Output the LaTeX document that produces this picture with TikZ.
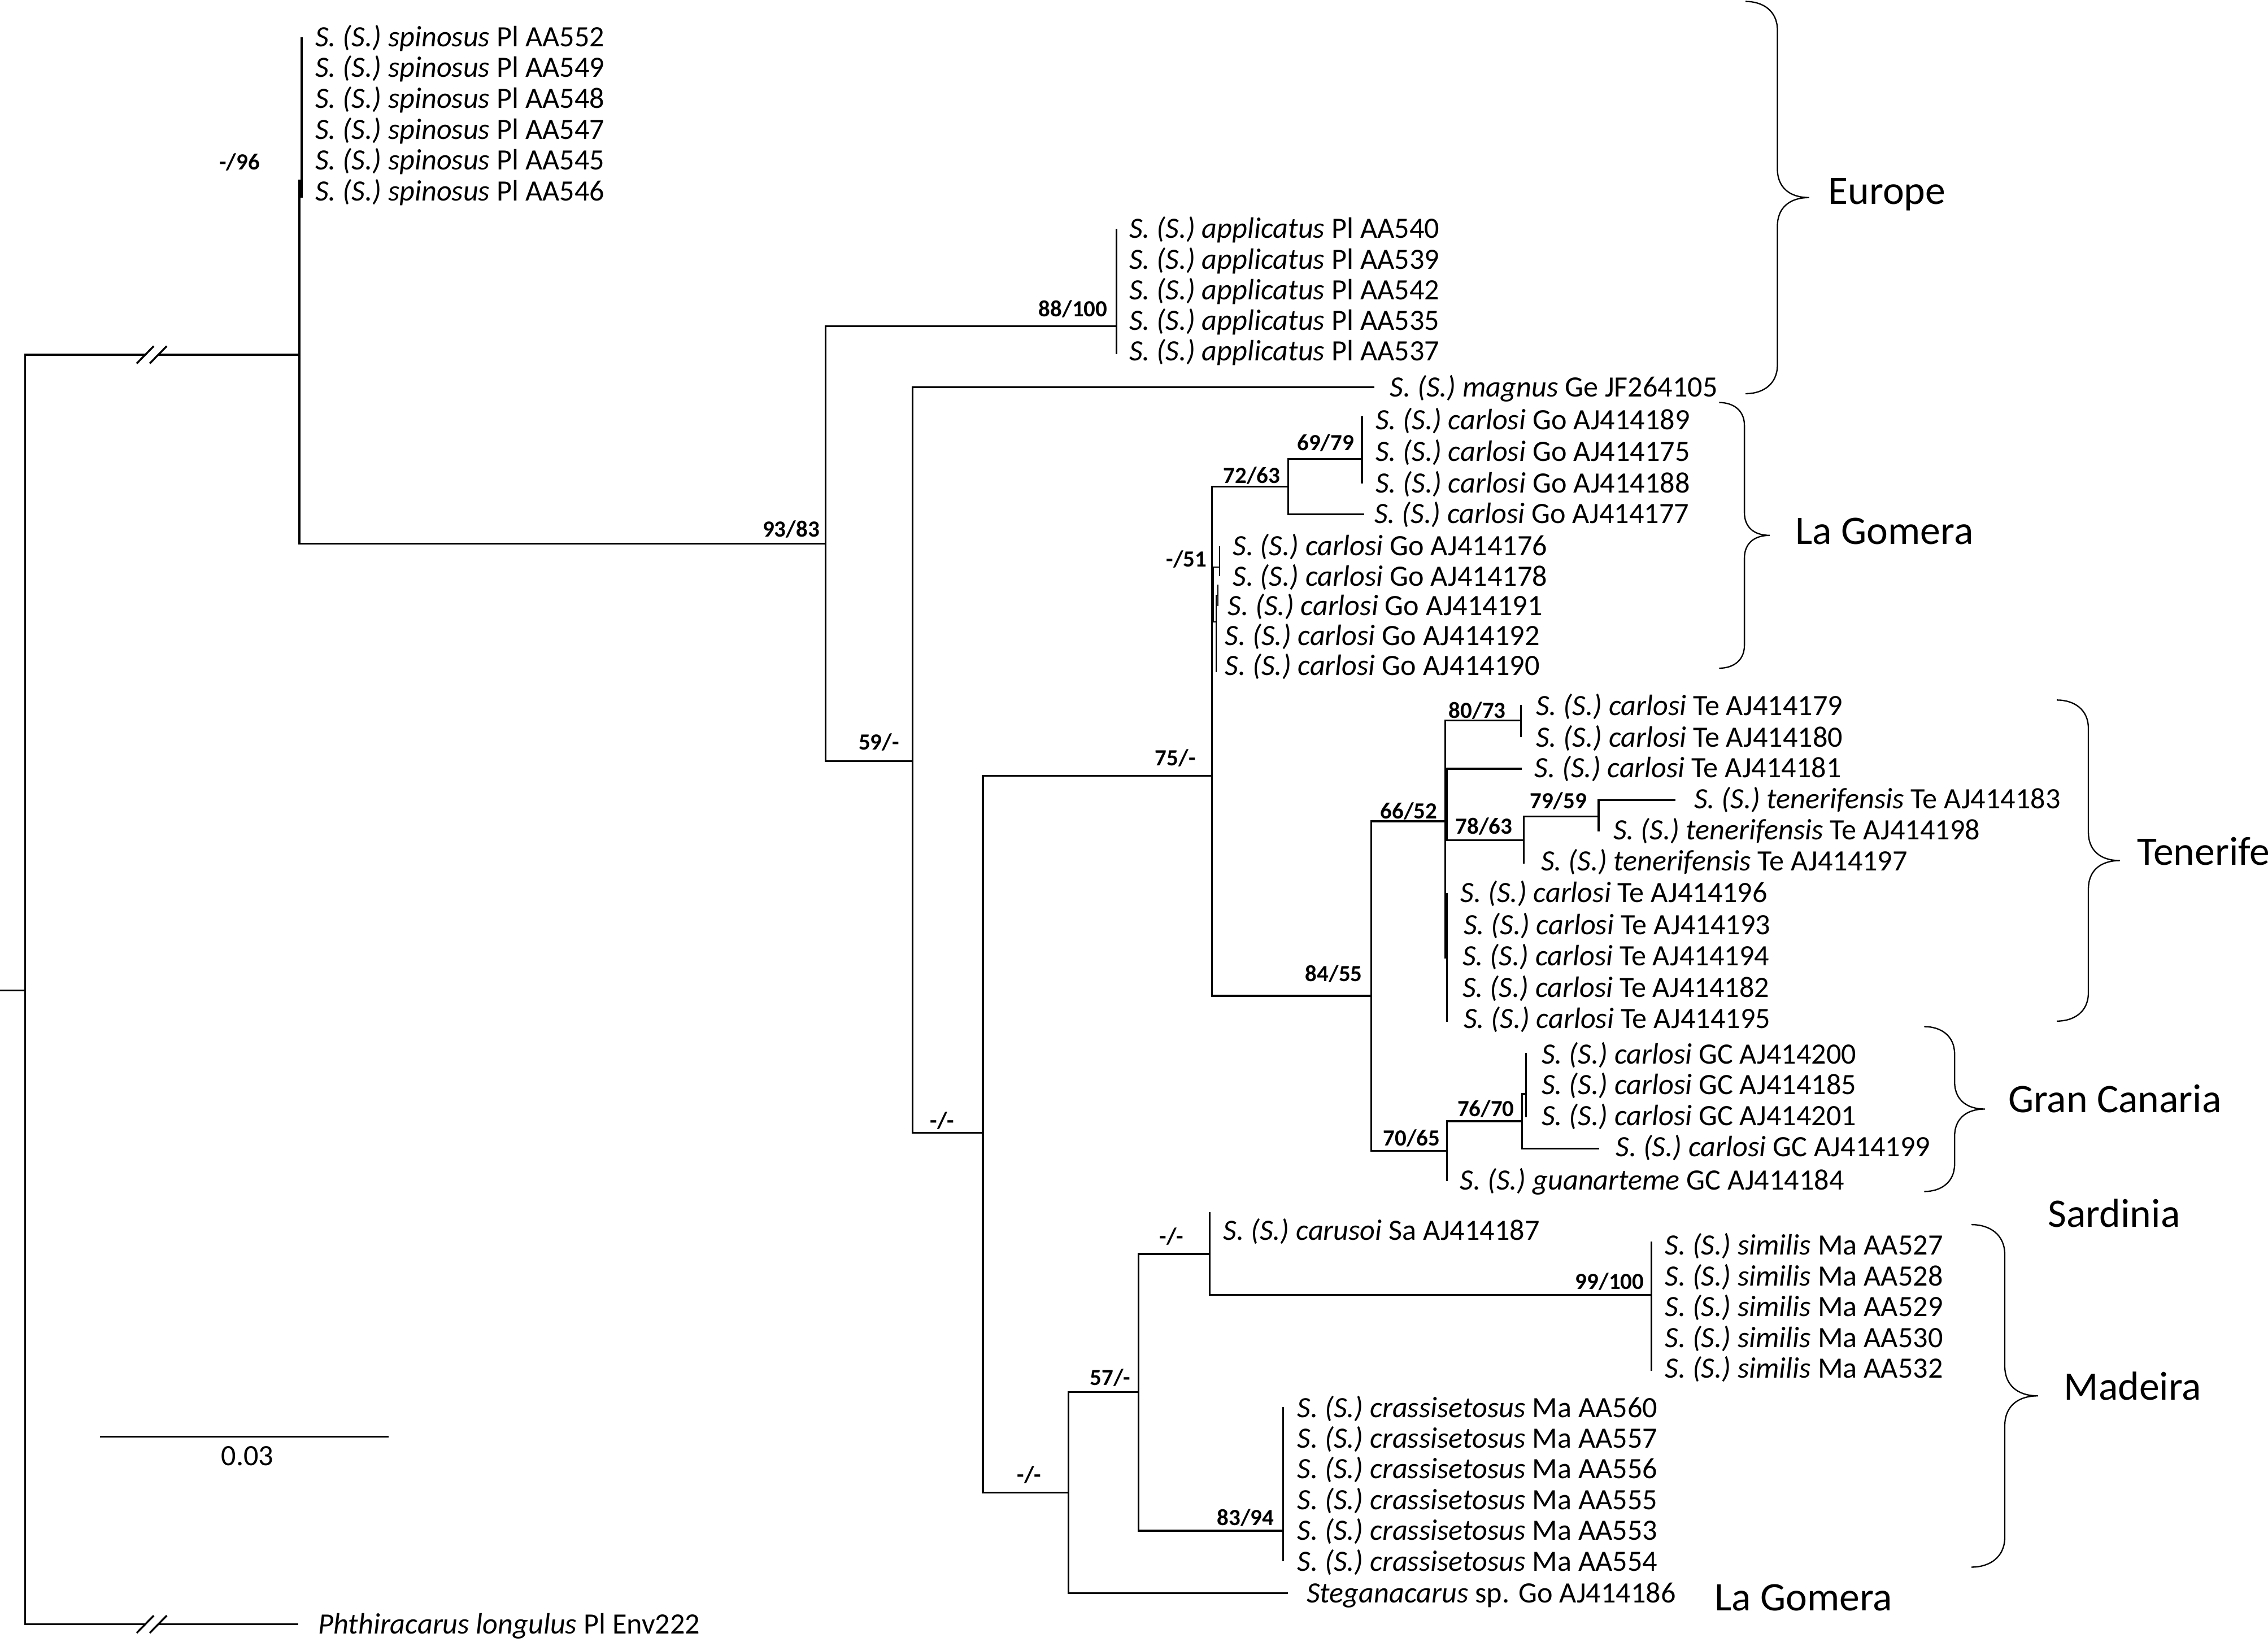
\documentclass[tikz,border=0pt]{standalone}
\usepackage{fontspec}
\setmainfont{Carlito}

% taxon label: italic name, plain locality and accession
\newcommand{\taxon}[2]{\textit{S. (S.) #1} #2}
% curly brace opening to the left: x of ends, top, bottom, half width
\newcommand{\regionbrace}[4]{%
  \draw[regbrace] (#1,#2)
    .. controls ({#1+0.55*#4},#2) and ({#1+#4},{#2+0.3*#4}) .. ({#1+#4},{#2+0.9*#4})
    -- ({#1+#4},{(#2+#3)/2-0.9*#4})
    .. controls ({#1+#4},{(#2+#3)/2-0.35*#4}) and ({#1+1.35*#4},{(#2+#3)/2}) .. ({#1+2*#4},{(#2+#3)/2})
    .. controls ({#1+1.35*#4},{(#2+#3)/2}) and ({#1+#4},{(#2+#3)/2+0.35*#4}) .. ({#1+#4},{(#2+#3)/2+0.9*#4})
    -- ({#1+#4},{#3-0.9*#4})
    .. controls ({#1+#4},{#3-0.3*#4}) and ({#1+0.55*#4},#3) .. (#1,#3);}

\begin{document}
\begin{tikzpicture}[x=0.5pt, y=-0.5pt,
    branch/.style={line width=0.65pt, black},
    fine/.style={line width=0.35pt, black},
    regbrace/.style={line width=0.45pt, black},
    leaf/.style={anchor=west, inner sep=0pt, font=\fontsize{10.2}{12}\selectfont, text height=6.5pt, text depth=0pt},
    sup/.style={anchor=east, inner sep=0pt, font=\bfseries\fontsize{8}{10}\selectfont, text height=5.2pt, text depth=0pt},
    region/.style={anchor=west, inner sep=0pt, font=\fontsize{14}{16}\selectfont, text height=9pt, text depth=0pt}]
    \useasboundingbox (0,0) rectangle (1568,1135);

    % Branch points
    \coordinate (rootstub) at (0,684.7);
    \coordinate (root) at (17.4,684.7);
    \coordinate (brkA) at (100.4,245.3);
    \coordinate (brkB) at (109.4,245.3);
    \coordinate (ningroup) at (207,245.3);
    \coordinate (brkC) at (100.4,1123);
    \coordinate (brkD) at (109.4,1123);
    \coordinate (phthend) at (206.3,1123);
    \coordinate (nspin) at (208.5,125);
    \coordinate (spintop) at (208.5,25.6);
    \coordinate (spinbot) at (208.5,136.7);
    \coordinate (n9383) at (570.7,376);
    \coordinate (napplic) at (772,225.5);
    \coordinate (applictop) at (772,158.2);
    \coordinate (applicbot) at (772,245);
    \coordinate (n59) at (630.8,526.2);
    \coordinate (magnusend) at (950,267.8);
    \coordinate (n679) at (679.5,783.3);
    \coordinate (n75) at (837.8,536.5);
    \coordinate (n7263) at (890.5,336.4);
    \coordinate (n6979) at (941.6,317.3);
    \coordinate (go189) at (941.6,288);
    \coordinate (go188) at (941.6,334.4);
    \coordinate (go177end) at (943,355.6);
    \coordinate (n51) at (838.9,411);
    \coordinate (n51a) at (843.3,392);
    \coordinate (go176) at (843.3,377.5);
    \coordinate (go178) at (843.3,398.3);
    \coordinate (n51b) at (840.9,430);
    \coordinate (go190) at (840.9,464.7);
    \coordinate (n51c) at (842.1,411.5);
    \coordinate (go191) at (842.1,404.2);
    \coordinate (go192) at (842.1,419.2);
    \coordinate (n8455) at (947.9,688.5);
    \coordinate (n6652) at (999.1,567.8);
    \coordinate (n8073) at (1051.5,498.2);
    \coordinate (te179) at (1051.5,487.3);
    \coordinate (te180) at (1051.5,509.6);
    \coordinate (nsub) at (1000.4,556);
    \coordinate (te181end) at (1052.2,531.5);
    \coordinate (n7863) at (1053.5,580.8);
    \coordinate (n7959) at (1105.2,564.4);
    \coordinate (te183end) at (1158.4,553.2);
    \coordinate (te198) at (1105.2,574.9);
    \coordinate (te197) at (1053.5,597.3);
    \coordinate (nte) at (1000.4,662);
    \coordinate (te196) at (1000.4,617.5);
    \coordinate (te195) at (1000.4,706.4);
    \coordinate (n7065) at (1000.4,795.8);
    \coordinate (n7670) at (1052.2,775.2);
    \coordinate (gc199end) at (1105.6,794.2);
    \coordinate (guan) at (1000.4,816.6);
    \coordinate (ngc) at (1055.1,756.4);
    \coordinate (gc200) at (1055.1,728);
    \coordinate (gc201) at (1055.1,772.4);
    \coordinate (n738) at (738.6,1032.1);
    \coordinate (stegend) at (890.5,1101.6);
    \coordinate (n57) at (787,962.4);
    \coordinate (ncar) at (836.4,867);
    \coordinate (carusoi) at (836.4,838);
    \coordinate (n99100) at (1141.7,895.4);
    \coordinate (sim527) at (1141.7,858.5);
    \coordinate (sim532) at (1141.7,948);
    \coordinate (n8394) at (887,1058.3);
    \coordinate (cr560) at (887,972.7);
    \coordinate (cr554) at (887,1079.4);

    % Branches
    \draw[branch] (rootstub) -- (root);
    \draw[branch] (root) |- (brkA) (brkB) -- (ningroup);
    \draw[branch] (root) |- (brkC) (brkD) -- (phthend);
    \foreach \yb in {245.3,1123}
        \draw[branch] (94.5,{\yb+6}) -- (106.3,{\yb-6}) (103.5,{\yb+6}) -- (115.3,{\yb-6});
    \draw[branch] (ningroup) |- (nspin) (nspin) |- (spintop) (nspin) |- (spinbot);
    \draw[branch] (ningroup) |- (n9383);
    \draw[branch] (n9383) |- (napplic) (napplic) |- (applictop) (napplic) |- (applicbot);
    \draw[branch] (n9383) |- (n59);
    \draw[branch] (n59) |- (magnusend) (n59) |- (n679);
    \draw[branch] (n679) |- (n75) (n679) |- (n738);
    \draw[branch] (n75) |- (n7263) (n75) |- (n8455);
    \draw[branch] (n7263) |- (n6979) (n7263) |- (go177end);
    \draw[branch] (n6979) |- (go189) (n6979) |- (go188);
    \draw[fine] (n75) |- (n51) (n51) |- (n51a) (n51a) |- (go176) (n51a) |- (go178);
    \draw[fine] (n51) |- (n51b) (n51b) |- (go190) (n51b) |- (n51c) (n51c) |- (go191) (n51c) |- (go192);
    \draw[branch] (n8455) |- (n6652) (n8455) |- (n7065);
    \draw[branch] (n6652) |- (n8073) (n6652) |- (nsub) (n6652) |- (nte);
    \draw[branch] (n8073) |- (te179) (n8073) |- (te180);
    \draw[branch] (nsub) |- (te181end) (nsub) |- (n7863);
    \draw[branch] (n7863) |- (n7959) (n7863) |- (te197);
    \draw[branch] (n7959) |- (te183end) (n7959) |- (te198);
    \draw[branch] (nte) |- (te196) (nte) |- (te195);
    \draw[branch] (n7065) |- (n7670) (n7065) |- (guan);
    \draw[branch] (n7670) |- (ngc) (n7670) |- (gc199end);
    \draw[branch] (ngc) |- (gc200) (ngc) |- (gc201);
    \draw[branch] (n738) |- (n57) (n738) |- (stegend);
    \draw[branch] (n57) |- (ncar) (n57) |- (n8394);
    \draw[branch] (ncar) |- (carusoi) (ncar) |- (n99100);
    \draw[branch] (n99100) |- (sim527) (n99100) |- (sim532);
    \draw[branch] (n8394) |- (cr560) (n8394) |- (cr554);

    % Taxa
    \node[leaf] (sp552) at (217.6,25.6) {\taxon{spinosus}{Pl AA552}};
    \node[leaf] (sp549) at (217.6,47) {\taxon{spinosus}{Pl AA549}};
    \node[leaf] (sp548) at (217.6,68.3) {\taxon{spinosus}{Pl AA548}};
    \node[leaf] (sp547) at (217.6,89.7) {\taxon{spinosus}{Pl AA547}};
    \node[leaf] (sp545) at (217.6,111) {\taxon{spinosus}{Pl AA545}};
    \node[leaf] (sp546) at (217.6,132.4) {\taxon{spinosus}{Pl AA546}};
    \node[leaf] (ap540) at (780.3,158.2) {\taxon{applicatus}{Pl AA540}};
    \node[leaf] (ap539) at (780.3,179.4) {\taxon{applicatus}{Pl AA539}};
    \node[leaf] (ap542) at (780.3,200.7) {\taxon{applicatus}{Pl AA542}};
    \node[leaf] (ap535) at (780.3,221.6) {\taxon{applicatus}{Pl AA535}};
    \node[leaf] (ap537) at (780.3,242.9) {\taxon{applicatus}{Pl AA537}};
    \node[leaf] (mag) at (960.6,267.8) {\taxon{magnus}{Ge JF264105}};
    \node[leaf] (c189) at (950.6,290.5) {\taxon{carlosi}{Go AJ414189}};
    \node[leaf] (c175) at (950.6,312.5) {\taxon{carlosi}{Go AJ414175}};
    \node[leaf] (c188) at (950.6,334.2) {\taxon{carlosi}{Go AJ414188}};
    \node[leaf] (c177) at (949.9,355.4) {\taxon{carlosi}{Go AJ414177}};
    \node[leaf] (c176) at (851.9,377.5) {\taxon{carlosi}{Go AJ414176}};
    \node[leaf] (c178) at (851.9,398.5) {\taxon{carlosi}{Go AJ414178}};
    \node[leaf] (c191) at (848.6,419) {\taxon{carlosi}{Go AJ414191}};
    \node[leaf] (c192) at (846.6,439.6) {\taxon{carlosi}{Go AJ414192}};
    \node[leaf] (c190) at (846.6,460.5) {\taxon{carlosi}{Go AJ414190}};
    \node[leaf] (c179) at (1061.6,488) {\taxon{carlosi}{Te AJ414179}};
    \node[leaf] (c180) at (1061.6,510) {\taxon{carlosi}{Te AJ414180}};
    \node[leaf] (c181) at (1060.6,531) {\taxon{carlosi}{Te AJ414181}};
    \node[leaf] (t183) at (1170.8,552.5) {\taxon{tenerifensis}{Te AJ414183}};
    \node[leaf] (t198) at (1115,574) {\taxon{tenerifensis}{Te AJ414198}};
    \node[leaf] (t197) at (1065,595.5) {\taxon{tenerifensis}{Te AJ414197}};
    \node[leaf] (c196) at (1009.5,617.5) {\taxon{carlosi}{Te AJ414196}};
    \node[leaf] (c193) at (1011.5,639.5) {\taxon{carlosi}{Te AJ414193}};
    \node[leaf] (c194) at (1010.8,661) {\taxon{carlosi}{Te AJ414194}};
    \node[leaf] (c182) at (1010.8,683) {\taxon{carlosi}{Te AJ414182}};
    \node[leaf] (c195) at (1011.5,704.5) {\taxon{carlosi}{Te AJ414195}};
    \node[leaf] (c200) at (1065.5,729) {\taxon{carlosi}{GC AJ414200}};
    \node[leaf] (c185) at (1065.5,750) {\taxon{carlosi}{GC AJ414185}};
    \node[leaf] (c201) at (1065.5,771.5) {\taxon{carlosi}{GC AJ414201}};
    \node[leaf] (c199) at (1116.7,793) {\taxon{carlosi}{GC AJ414199}};
    \node[leaf] (g184) at (1009,816) {\taxon{guanarteme}{GC AJ414184}};
    \node[leaf] (cr187) at (845.4,851) {\taxon{carusoi}{Sa AJ414187}};
    \node[leaf] (si527) at (1150.7,861) {\taxon{similis}{Ma AA527}};
    \node[leaf] (si528) at (1150.7,882.5) {\taxon{similis}{Ma AA528}};
    \node[leaf] (si529) at (1150.7,903.8) {\taxon{similis}{Ma AA529}};
    \node[leaf] (si530) at (1150.7,925) {\taxon{similis}{Ma AA530}};
    \node[leaf] (si532) at (1150.7,946.3) {\taxon{similis}{Ma AA532}};
    \node[leaf] (cs560) at (896.5,973.4) {\taxon{crassisetosus}{Ma AA560}};
    \node[leaf] (cs557) at (896.5,994.6) {\taxon{crassisetosus}{Ma AA557}};
    \node[leaf] (cs556) at (896.5,1015.9) {\taxon{crassisetosus}{Ma AA556}};
    \node[leaf] (cs555) at (896.5,1037.2) {\taxon{crassisetosus}{Ma AA555}};
    \node[leaf] (cs553) at (896.5,1058.4) {\taxon{crassisetosus}{Ma AA553}};
    \node[leaf] (cs554) at (896.5,1079.6) {\taxon{crassisetosus}{Ma AA554}};
    \node[leaf] (steg) at (903,1101.6) {\textit{Steganacarus} sp. Go AJ414186};
    \node[leaf] (phth) at (219.6,1123) {\textit{Phthiracarus longulus} Pl Env222};

    % Support values
    \node[sup] (sup96) at (180,112) {-/96};
    \node[sup] (sup9383) at (567,366) {93/83};
    \node[sup] (sup88100) at (766,213.6) {88/100};
    \node[sup] (sup59) at (622,513.3) {59/-};
    \node[sup] (supa) at (660.2,774.8) {-/-};
    \node[sup] (sup75) at (827,524.3) {75/-};
    \node[sup] (sup7263) at (885.5,329) {72/63};
    \node[sup] (sup6979) at (936.5,306.3) {69/79};
    \node[sup] (sup51) at (834.7,386.6) {-/51};
    \node[sup] (sup8455) at (942.2,673.2) {84/55};
    \node[sup] (sup6652) at (994,560.9) {66/52};
    \node[sup] (sup8073) at (1041.4,491.2) {80/73};
    \node[sup] (sup7863) at (1046,571.4) {78/63};
    \node[sup] (sup7959) at (1097.4,553.9) {79/59};
    \node[sup] (sup7065) at (996,787) {70/65};
    \node[sup] (sup7670) at (1047.3,766.5) {76/70};
    \node[sup] (supb) at (818.7,855) {-/-};
    \node[sup] (sup57) at (782,952.7) {57/-};
    \node[sup] (supc) at (720.3,1019.9) {-/-};
    \node[sup] (sup99100) at (1137,886.3) {99/100};
    \node[sup] (sup8394) at (881.1,1049.3) {83/94};

    % Scale bar
    \coordinate (sbl) at (69.1,993.2);
    \coordinate (sbr) at (268.7,993.2);
    \draw[branch] (sbl) -- (sbr);
    \node[leaf, anchor=center] (scalelbl) at (171,1006.9) {0.03};

    % Regions
    \regionbrace{1206.8}{1}{272.2}{22}
    \regionbrace{1188.5}{278.3}{462}{17.5}
    \regionbrace{1422}{484}{706}{21.8}
    \regionbrace{1330.3}{709.8}{823.8}{21}
    \regionbrace{1363}{846.7}{1083.5}{23}
    \node[region] (europe) at (1263.6,132) {Europe};
    \node[region] (gomeraA) at (1241,367.4) {La Gomera};
    \node[region] (tenerife) at (1477.2,589) {Tenerife};
    \node[region] (grancan) at (1388,760) {Gran Canaria};
    \node[region] (sardinia) at (1415.5,839.6) {Sardinia};
    \node[region] (madeira) at (1426.5,959) {Madeira};
    \node[region] (gomeraB) at (1185.1,1104.7) {La Gomera};
\end{tikzpicture}
\end{document}
